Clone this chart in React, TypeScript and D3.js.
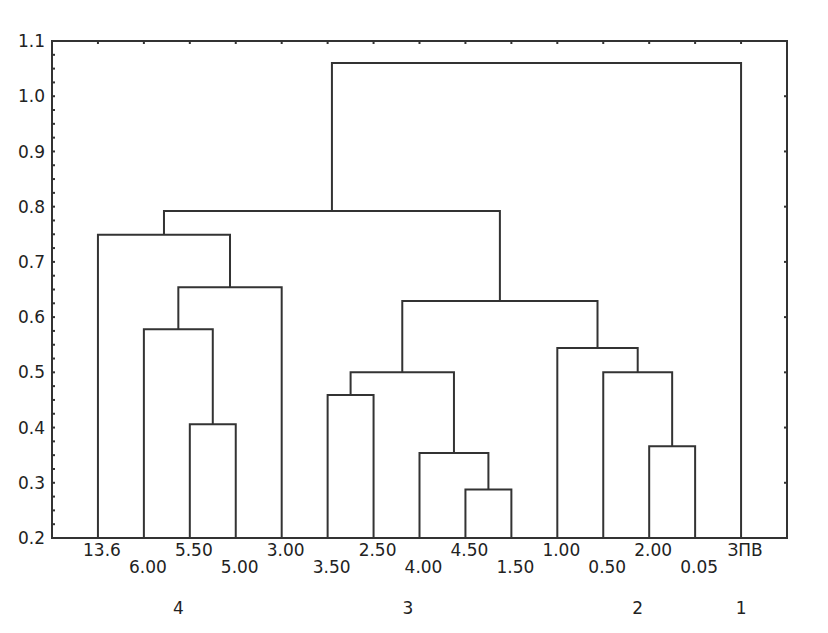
import React, { useEffect, useRef } from "react";
import * as d3 from "d3";

// leaf labels, left to right
const leaves = ["13.6", "6.00", "5.50", "5.00", "3.00", "3.50", "2.50", "4.00", "4.50", "1.50", "1.00", "0.50", "2.00", "0.05", "ЗПВ"];
// merges: [node a, node b, linkage distance]; new nodes numbered from leaves.length
const merges: [number, number, number][] = [
  [2, 3, 0.406],
  [1, 15, 0.578],
  [16, 4, 0.654],
  [0, 17, 0.749],
  [8, 9, 0.288],
  [7, 19, 0.354],
  [5, 6, 0.459],
  [21, 20, 0.5],
  [12, 13, 0.366],
  [11, 23, 0.5],
  [10, 24, 0.544],
  [22, 25, 0.629],
  [18, 26, 0.792],
  [27, 14, 1.06],
];
const yTicks = [0.2, 0.3, 0.4, 0.5, 0.6, 0.7, 0.8, 0.9, 1.0, 1.1];
const groupLabels = ["4", "3", "2", "1"];
const groupPos = [1.75, 6.75, 11.75, 14];

const Dendrogram = () => {
  const svgRef = useRef(null);
  const svgWidth = 828;
  const svgHeight = 633;

  useEffect(() => {
    const margin = { top: 41, right: 41, bottom: 95, left: 52 };
    const innerWidth = svgWidth - margin.left - margin.right;
    const innerHeight = svgHeight - margin.top - margin.bottom;
    const ink = "#333";
    const font = "'DejaVu Sans', Verdana, sans-serif";
    const fontSize = 17;

    const svg = d3.select(svgRef.current).attr("width", svgWidth).attr("height", svgHeight);
    svg.selectAll("*").remove();

    const xScale = d3.scalePoint<number>().domain(d3.range(leaves.length)).range([0, innerWidth]).padding(1);
    const idxScale = d3.scaleLinear().domain([0, leaves.length - 1]).range([xScale(0)!, xScale(leaves.length - 1)!]);
    const yScale = d3.scaleLinear().domain([0.2, 1.1]).range([innerHeight, 0]);

    const g = svg.append("g").attr("transform", `translate(${margin.left},${margin.top})`);

    // node positions
    const nodeX: number[] = leaves.map((_, i) => xScale(i)!);
    const nodeH: number[] = leaves.map(() => 0.2);
    merges.forEach(([a, b, h]) => {
      const xa = nodeX[a];
      const xb = nodeX[b];
      g.append("path")
        .attr("d", `M${xa},${yScale(nodeH[a])}V${yScale(h)}H${xb}V${yScale(nodeH[b])}`)
        .attr("fill", "none")
        .attr("stroke", ink)
        .attr("stroke-width", 2);
      nodeX.push((xa + xb) / 2);
      nodeH.push(h);
    });

    // frame
    g.append("rect")
      .attr("width", innerWidth)
      .attr("height", innerHeight)
      .attr("fill", "none")
      .attr("stroke", ink)
      .attr("stroke-width", 2);

    // left ticks (major + minor)
    d3.range(0.2, 1.1001, 0.025).forEach((v) => {
      g.append("line")
        .attr("x1", 0)
        .attr("x2", 3)
        .attr("y1", yScale(v))
        .attr("y2", yScale(v))
        .attr("stroke", ink)
        .attr("stroke-width", 2);
    });
    // right ticks
    yTicks.forEach((v) => {
      g.append("line")
        .attr("x1", innerWidth)
        .attr("x2", innerWidth - 3)
        .attr("y1", yScale(v))
        .attr("y2", yScale(v))
        .attr("stroke", ink)
        .attr("stroke-width", 2);
    });
    // top ticks at leaves
    leaves.forEach((_, i) => {
      g.append("line")
        .attr("x1", xScale(i)!)
        .attr("x2", xScale(i)!)
        .attr("y1", 0)
        .attr("y2", 3)
        .attr("stroke", ink)
        .attr("stroke-width", 2);
    });

    // y labels
    g.selectAll(".ylab")
      .data(yTicks)
      .join("text")
      .attr("x", -7)
      .attr("y", (d) => yScale(d))
      .attr("dy", "0.36em")
      .attr("text-anchor", "end")
      .attr("font-family", font)
      .attr("font-size", fontSize)
      .attr("fill", "#222")
      .text((d) => d.toFixed(1));

    // leaf labels, staggered in two rows
    g.selectAll(".leaf")
      .data(leaves)
      .join("text")
      .attr("x", (_, i) => xScale(i)! + 4)
      .attr("y", (_, i) => innerHeight + (i % 2 === 0 ? 18 : 35))
      .attr("text-anchor", "middle")
      .attr("font-family", font)
      .attr("font-size", fontSize)
      .attr("fill", "#222")
      .text((d) => d);

    // group labels
    g.selectAll(".grp")
      .data(groupLabels)
      .join("text")
      .attr("x", (_, i) => idxScale(groupPos[i]))
      .attr("y", innerHeight + 76)
      .attr("text-anchor", "middle")
      .attr("font-family", font)
      .attr("font-size", fontSize)
      .attr("fill", "#222")
      .text((d) => d);
  }, []);

  return <svg ref={svgRef} style={{ position: "absolute", left: 0, top: 0, background: "#fff" }}></svg>;
};

export default function App() {
  return <Dendrogram />;
}
